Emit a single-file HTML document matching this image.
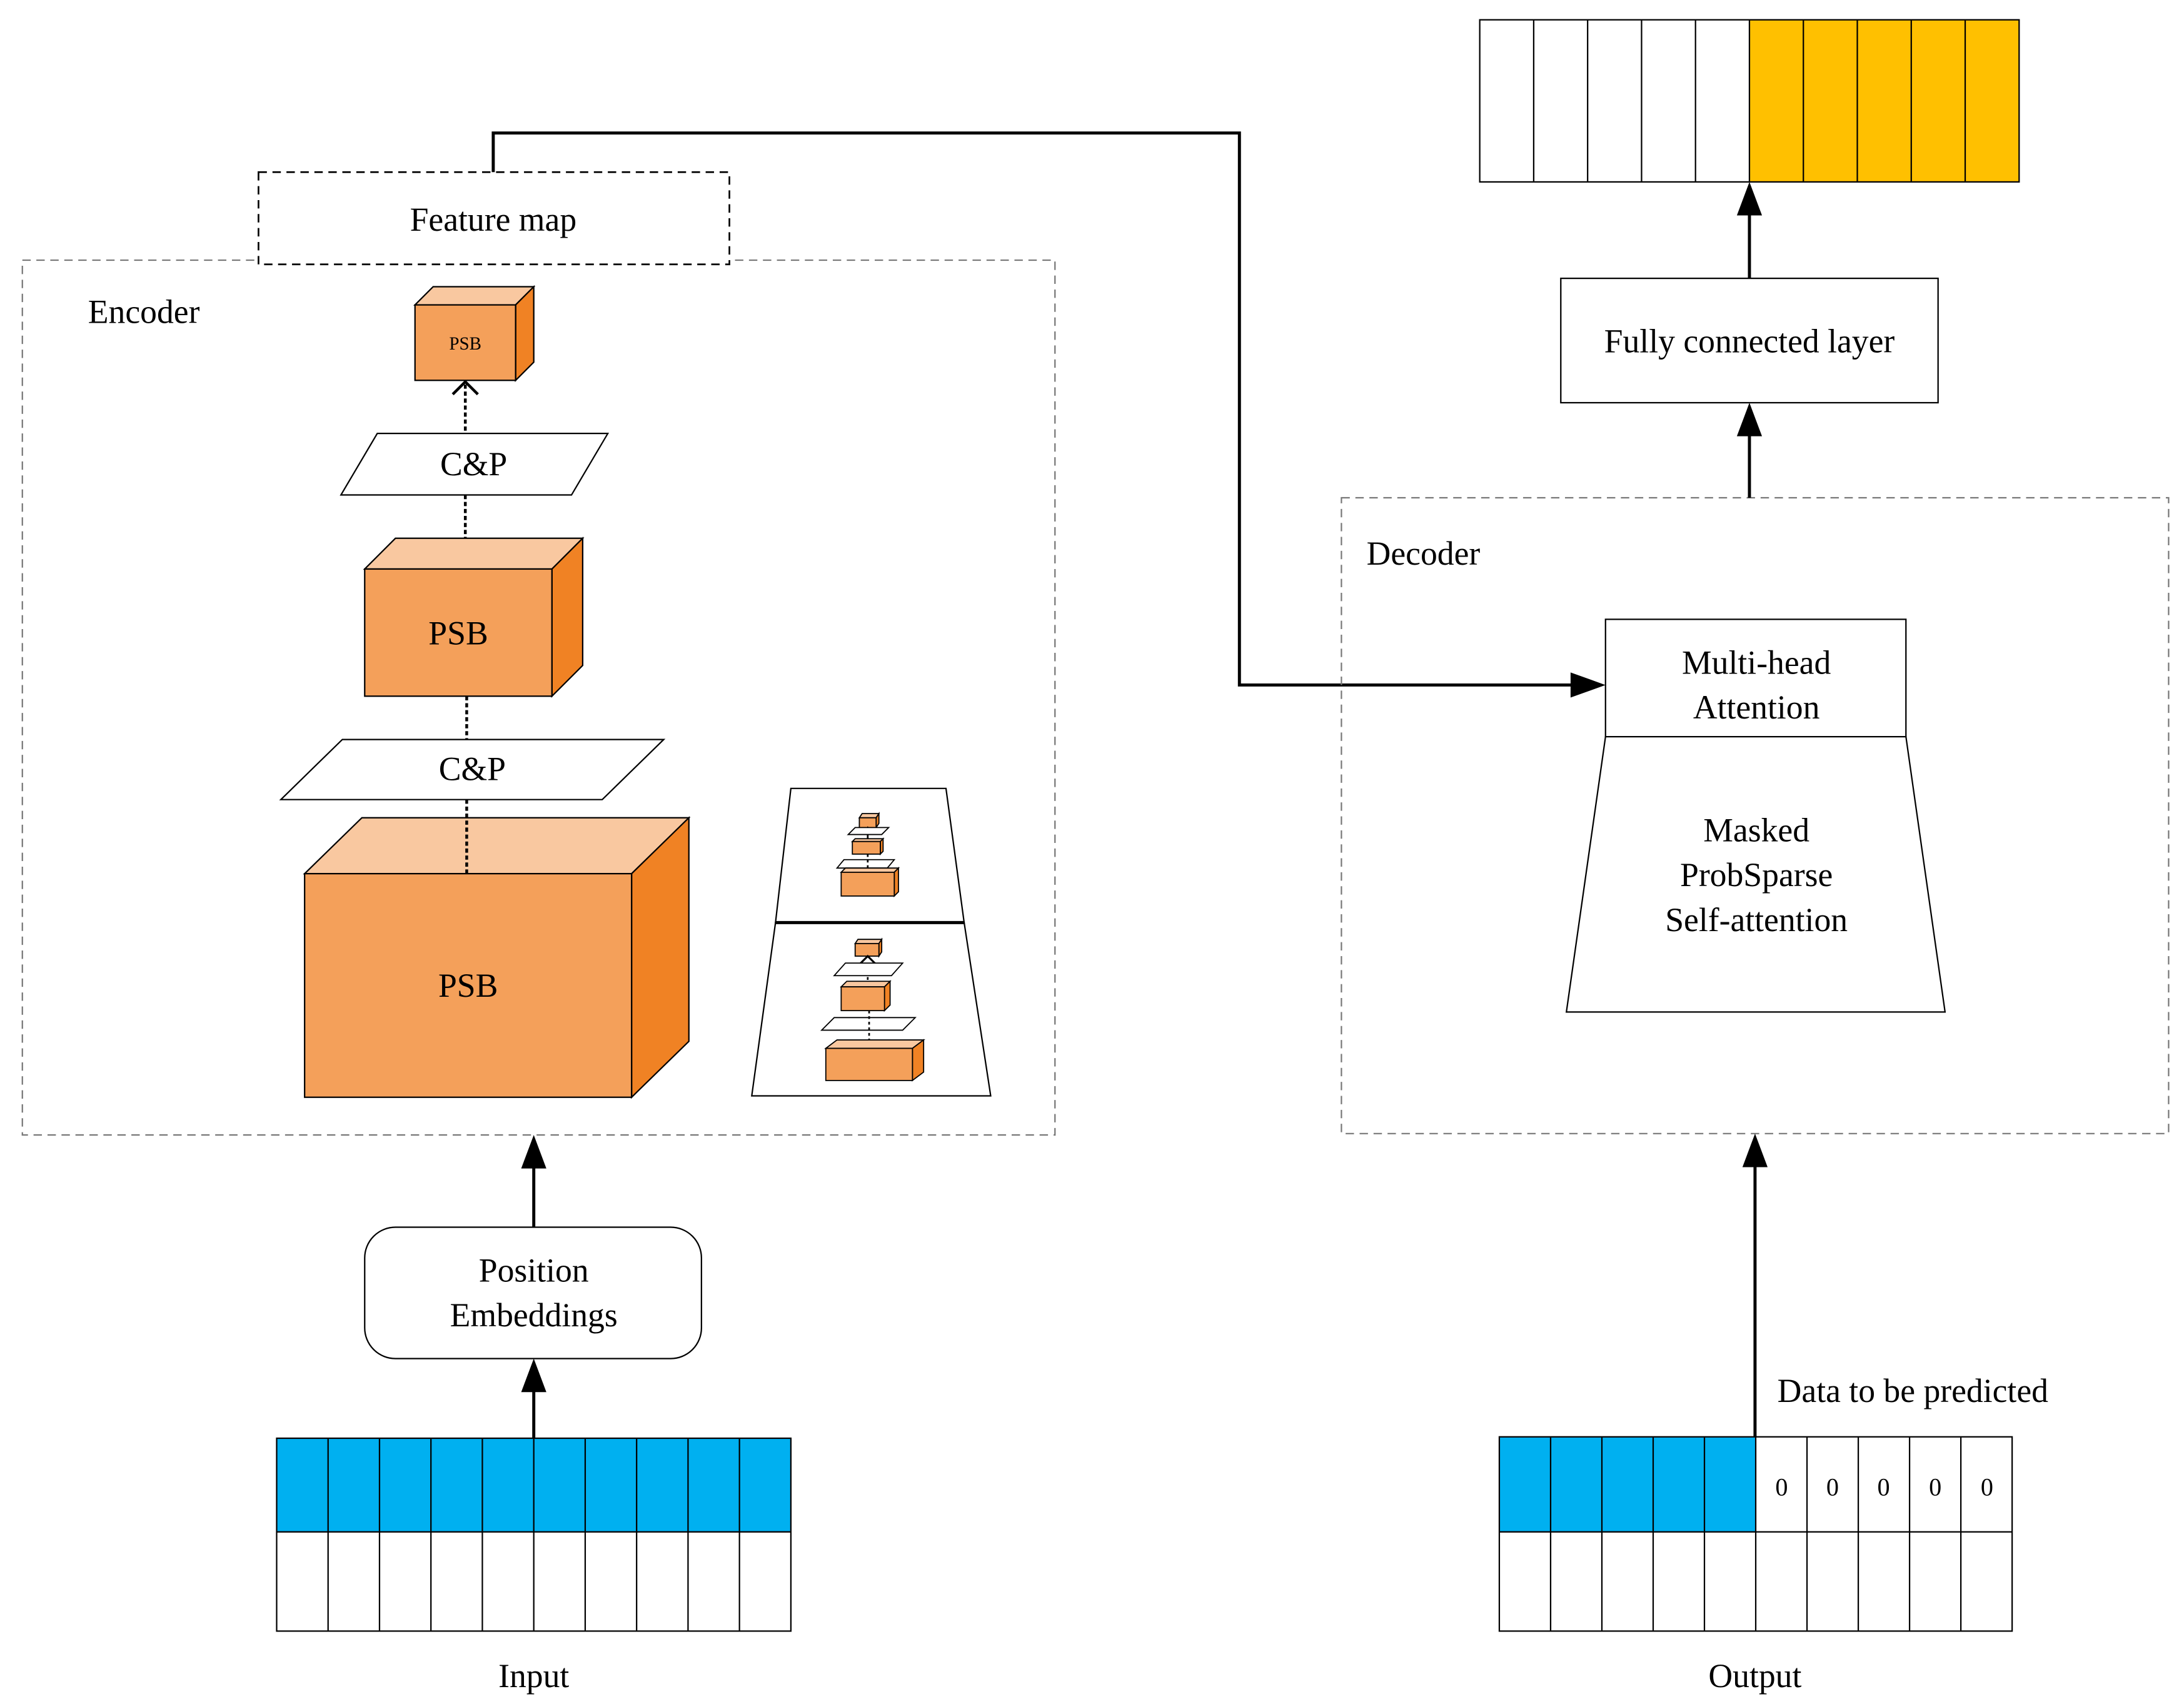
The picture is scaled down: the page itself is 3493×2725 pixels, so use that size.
<!DOCTYPE html>
<html><head><meta charset="utf-8"><style>
html,body{margin:0;padding:0;background:#fff;}
svg{display:block;}
text{font-family:"Liberation Serif",serif;fill:#000;}
</style></head><body>
<svg width="3493" height="2725" viewBox="0 0 1563 1219" xmlns="http://www.w3.org/2000/svg">
<defs>
<marker id="ah" markerWidth="10" markerHeight="10" refX="9" refY="5" orient="auto" markerUnits="userSpaceOnUse" viewBox="0 0 10 10"></marker>
</defs>
<rect width="1563" height="1219" fill="#fff"/>

<!-- Encoder box -->
<rect x="16" y="186" width="739" height="626" fill="none" stroke="#777" stroke-width="1" stroke-dasharray="6,4"/>
<text x="63" y="231" font-size="24">Encoder</text>

<!-- Feature map -->
<rect x="185" y="123" width="337" height="66" fill="#fff" stroke="#000" stroke-width="1.2" stroke-dasharray="6,4"/>
<text x="353" y="165" font-size="24" text-anchor="middle">Feature map</text>

<!-- connector feature map -> attention -->
<polyline points="353,123 353,95 887,95 887,490 1128,490" fill="none" stroke="#000" stroke-width="2.2"/>
<polygon points="1149,490 1124,481 1124,499" fill="#000"/>

<!-- Small cube -->
<polygon points="297,218 310,205 382,205 369,218" fill="#F9C8A0" stroke="#000" stroke-width="1"/>
<polygon points="369,218 382,205 382,259 369,272" fill="#F08224" stroke="#000" stroke-width="1"/>
<rect x="297" y="218" width="72" height="54" fill="#F4A05A" stroke="#000" stroke-width="1"/>
<text x="333" y="250" font-size="13" text-anchor="middle">PSB</text>

<!-- arrow up open chevron -->
<line x1="333" y1="275" x2="333" y2="310" stroke="#000" stroke-width="2" stroke-dasharray="3,2"/>
<polyline points="324,282 333,273 342,282" fill="none" stroke="#000" stroke-width="2"/>

<!-- C&P1 -->
<polygon points="270,310 435,310 409,354 244,354" fill="#fff" stroke="#000" stroke-width="1"/>
<text x="339" y="340" font-size="24" text-anchor="middle">C&amp;P</text>
<line x1="333" y1="354" x2="333" y2="385" stroke="#000" stroke-width="2" stroke-dasharray="3,2"/>

<!-- PSB2 -->
<polygon points="261,407 283,385 417,385 395,407" fill="#F9C8A0" stroke="#000" stroke-width="1"/>
<polygon points="395,407 417,385 417,476 395,498" fill="#F08224" stroke="#000" stroke-width="1"/>
<rect x="261" y="407" width="134" height="91" fill="#F4A05A" stroke="#000" stroke-width="1"/>
<text x="328" y="461" font-size="24" text-anchor="middle">PSB</text>
<line x1="334" y1="498" x2="334" y2="529" stroke="#000" stroke-width="2" stroke-dasharray="3,2"/>

<!-- C&P2 -->
<polygon points="245,529 475,529 431,572 201,572" fill="#fff" stroke="#000" stroke-width="1"/>
<text x="338" y="558" font-size="24" text-anchor="middle">C&amp;P</text>

<!-- PSB3 -->
<polygon points="218,625 259,585 493,585 452,625" fill="#F9C8A0" stroke="#000" stroke-width="1"/>
<polygon points="452,625 493,585 493,745 452,785" fill="#F08224" stroke="#000" stroke-width="1"/>
<rect x="218" y="625" width="234" height="160" fill="#F4A05A" stroke="#000" stroke-width="1"/>
<text x="335" y="713" font-size="24" text-anchor="middle">PSB</text>
<line x1="334" y1="572" x2="334" y2="625" stroke="#000" stroke-width="2" stroke-dasharray="3,2"/>

<!-- Mini trapezoids -->
<polygon points="566,564 677,564 690,660 555,660" fill="#fff" stroke="#000" stroke-width="1"/>
<polygon points="555,660 690,660 709,784 538,784" fill="#fff" stroke="#000" stroke-width="1"/>
<line x1="555" y1="660" x2="690" y2="660" stroke="#000" stroke-width="2.2"/>
<g stroke="#000" stroke-width="0.8">
 <!-- top mini -->
 <polygon points="615,585 617,582 629,582 627,585" fill="#F9C8A0"/>
 <polygon points="627,585 629,582 629,589 627,592" fill="#F08224"/>
 <rect x="615" y="585" width="12" height="7" fill="#F4A05A"/>
 <polyline points="617,597 621,592 625,597" fill="none" stroke-width="1.2"/>
 <polygon points="612,592 636,592 631,597 607,597" fill="#fff"/>
 <line x1="621" y1="597" x2="621" y2="602" stroke-width="1.2"/>
 <polygon points="610,602 612,600 632,600 630,602" fill="#F9C8A0"/>
 <polygon points="630,602 632,600 632,609 630,611" fill="#F08224"/>
 <rect x="610" y="602" width="20" height="9" fill="#F4A05A"/>
 <polygon points="604,615 640,615 635,621 599,621" fill="#fff"/>
 <line x1="621" y1="611" x2="621" y2="629" stroke-width="1.2" stroke-dasharray="2,2"/>
 <polygon points="602,624 605,621 643,621 640,624" fill="#F9C8A0"/>
 <polygon points="640,624 643,621 643,638 640,641" fill="#F08224"/>
 <rect x="602" y="624" width="38" height="17" fill="#F4A05A"/>
 <!-- bottom mini -->
 <polygon points="612,675 614,672 631,672 629,675" fill="#F9C8A0"/>
 <polygon points="629,675 631,672 631,681 629,684" fill="#F08224"/>
 <rect x="612" y="675" width="17" height="9" fill="#F4A05A"/>
 <polyline points="615,690 621,684 627,690" fill="none" stroke-width="1.4"/>
 <polygon points="605,689 646,689 638,698 597,698" fill="#fff"/>
 <line x1="621" y1="699" x2="621" y2="706" stroke-width="1.2" stroke-dasharray="2,2"/>
 <polygon points="602,706 606,702 637,702 633,706" fill="#F9C8A0"/>
 <polygon points="633,706 637,702 637,719 633,723" fill="#F08224"/>
 <rect x="602" y="706" width="31" height="17" fill="#F4A05A"/>
 <polygon points="597,728 655,728 646,737 588,737" fill="#fff"/>
 <line x1="622" y1="723" x2="622" y2="750" stroke-width="1.2" stroke-dasharray="2,2"/>
 <polygon points="591,750 599,744 661,744 653,750" fill="#F9C8A0"/>
 <polygon points="653,750 661,744 661,767 653,773" fill="#F08224"/>
 <rect x="591" y="750" width="62" height="23" fill="#F4A05A"/>
</g>

<!-- Position embeddings & arrows -->
<line x1="382" y1="878" x2="382" y2="832" stroke="#000" stroke-width="2.2"/>
<polygon points="382,812 373,836 391,836" fill="#000"/>
<rect x="261" y="878" width="241" height="94" rx="22" fill="#fff" stroke="#000" stroke-width="1"/>
<text x="382" y="917" font-size="24" text-anchor="middle">Position</text>
<text x="382" y="949" font-size="24" text-anchor="middle">Embeddings</text>
<line x1="382" y1="1029" x2="382" y2="992" stroke="#000" stroke-width="2.2"/>
<polygon points="382,972 373,996 391,996" fill="#000"/>

<!-- Input grid -->
<rect x="198" y="1029" width="368" height="67" fill="#00B0F0"/>
<g stroke="#000" stroke-width="1" fill="none">
 <rect x="198" y="1029" width="368" height="138"/>
 <line x1="198" y1="1096" x2="566" y2="1096"/>
 <line x1="234.8" y1="1029" x2="234.8" y2="1167"/>
 <line x1="271.6" y1="1029" x2="271.6" y2="1167"/>
 <line x1="308.4" y1="1029" x2="308.4" y2="1167"/>
 <line x1="345.2" y1="1029" x2="345.2" y2="1167"/>
 <line x1="382" y1="1029" x2="382" y2="1167"/>
 <line x1="418.8" y1="1029" x2="418.8" y2="1167"/>
 <line x1="455.6" y1="1029" x2="455.6" y2="1167"/>
 <line x1="492.4" y1="1029" x2="492.4" y2="1167"/>
 <line x1="529.2" y1="1029" x2="529.2" y2="1167"/>
</g>
<text x="382" y="1207" font-size="24" text-anchor="middle">Input</text>

<!-- Decoder -->
<rect x="960" y="356" width="592" height="455" fill="none" stroke="#777" stroke-width="1" stroke-dasharray="6,4"/>
<text x="978" y="404" font-size="24">Decoder</text>
<rect x="1149" y="443" width="215" height="84" fill="#fff" stroke="#000" stroke-width="1"/>
<text x="1257" y="482" font-size="24" text-anchor="middle">Multi-head</text>
<text x="1257" y="514" font-size="24" text-anchor="middle">Attention</text>
<polygon points="1149,527 1364,527 1392,724 1121,724" fill="#fff" stroke="#000" stroke-width="1"/>
<text x="1257" y="602" font-size="24" text-anchor="middle">Masked</text>
<text x="1257" y="634" font-size="24" text-anchor="middle">ProbSparse</text>
<text x="1257" y="666" font-size="24" text-anchor="middle">Self-attention</text>

<!-- Decoder up arrows -->
<line x1="1252" y1="356" x2="1252" y2="308" stroke="#000" stroke-width="2.2"/>
<polygon points="1252,288 1243,312 1261,312" fill="#000"/>
<rect x="1117" y="199" width="270" height="89" fill="#fff" stroke="#000" stroke-width="1"/>
<text x="1252" y="252" font-size="24" text-anchor="middle">Fully connected layer</text>
<line x1="1252" y1="199" x2="1252" y2="150" stroke="#000" stroke-width="2.2"/>
<polygon points="1252,130 1243,154 1261,154" fill="#000"/>

<!-- Top grid -->
<rect x="1252" y="14" width="193" height="116" fill="#FFC000"/>
<g stroke="#000" stroke-width="1" fill="none">
 <rect x="1059" y="14" width="386" height="116"/>
 <line x1="1097.6" y1="14" x2="1097.6" y2="130"/>
 <line x1="1136.2" y1="14" x2="1136.2" y2="130"/>
 <line x1="1174.8" y1="14" x2="1174.8" y2="130"/>
 <line x1="1213.4" y1="14" x2="1213.4" y2="130"/>
 <line x1="1252" y1="14" x2="1252" y2="130"/>
 <line x1="1290.6" y1="14" x2="1290.6" y2="130"/>
 <line x1="1329.2" y1="14" x2="1329.2" y2="130"/>
 <line x1="1367.8" y1="14" x2="1367.8" y2="130"/>
 <line x1="1406.4" y1="14" x2="1406.4" y2="130"/>
</g>

<!-- Output arrow -->
<line x1="1256" y1="1028" x2="1256" y2="832" stroke="#000" stroke-width="2.2"/>
<polygon points="1256,811 1247,835 1265,835" fill="#000"/>
<text x="1272" y="1003" font-size="24">Data to be predicted</text>

<!-- Output grid -->
<rect x="1073" y="1028" width="183.5" height="68" fill="#00B0F0"/>
<g stroke="#000" stroke-width="1" fill="none">
 <rect x="1073" y="1028" width="367" height="139"/>
 <line x1="1073" y1="1096" x2="1440" y2="1096"/>
 <line x1="1109.7" y1="1028" x2="1109.7" y2="1167"/>
 <line x1="1146.4" y1="1028" x2="1146.4" y2="1167"/>
 <line x1="1183.1" y1="1028" x2="1183.1" y2="1167"/>
 <line x1="1219.8" y1="1028" x2="1219.8" y2="1167"/>
 <line x1="1256.5" y1="1028" x2="1256.5" y2="1167"/>
 <line x1="1293.2" y1="1028" x2="1293.2" y2="1167"/>
 <line x1="1329.9" y1="1028" x2="1329.9" y2="1167"/>
 <line x1="1366.6" y1="1028" x2="1366.6" y2="1167"/>
 <line x1="1403.3" y1="1028" x2="1403.3" y2="1167"/>
</g>
<g font-size="18" text-anchor="middle">
 <text x="1275" y="1070">0</text>
 <text x="1311.5" y="1070">0</text>
 <text x="1348" y="1070">0</text>
 <text x="1385" y="1070">0</text>
 <text x="1422" y="1070">0</text>
</g>
<text x="1256" y="1207" font-size="24" text-anchor="middle">Output</text>
</svg>
</body></html>
